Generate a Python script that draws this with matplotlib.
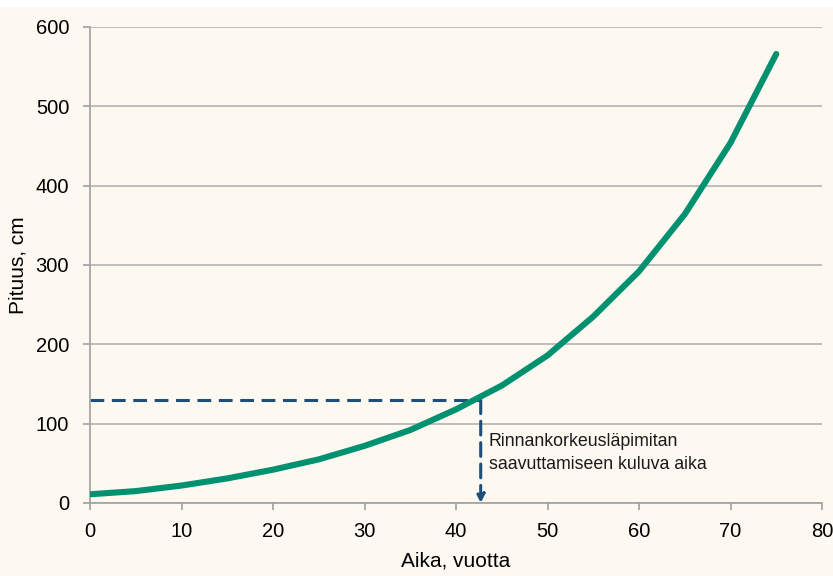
import matplotlib

matplotlib.use("Agg")
import matplotlib.pyplot as plt
from matplotlib.patches import Rectangle

# growth curve
years = [0, 5, 10, 15, 20, 25, 30, 35, 40, 45, 50, 55, 60, 65, 70, 75]
height_cm = [11, 15, 22, 31, 42, 55, 72, 92, 118, 148, 186, 235, 292, 364, 454, 566]

# breast height marker
bh_year = 42.7
bh_height = 130

x_ticks = list(range(0, 81, 10))
y_ticks = list(range(0, 601, 100))

plt.rcParams["font.family"] = ["Liberation Sans", "DejaVu Sans"]

fig = plt.figure(figsize=(8.33, 5.76), dpi=100, facecolor="white")
bg = "#fdf8f0"
fig.patches.append(Rectangle((0, 0), 1, 1 - 7 / 576, transform=fig.transFigure,
                             facecolor=bg, edgecolor="none", zorder=-10))
ax = fig.add_axes([90 / 833, 1 - 503 / 576, 732 / 833, 476 / 576])
ax.set_facecolor(bg)

ax.plot(years, height_cm, color="#009170", lw=4.4, solid_capstyle="round", zorder=3)

dash = "#1f4e79"
ax.plot([0, bh_year], [bh_height, bh_height], color=dash, lw=2.2, ls=(0, (4.5, 2.5)), zorder=2)
ax.annotate("", xy=(bh_year, 0), xytext=(bh_year, bh_height),
            arrowprops=dict(arrowstyle="-|>", color=dash, lw=2.2, ls=(0, (4.5, 2.5)),
                            shrinkA=0, shrinkB=0, mutation_scale=12), zorder=2)
ax.text(bh_year + 0.9, 63, "Rinnankorkeusläpimitan\nsaavuttamiseen kuluva aika",
        fontsize=12.8, va="center", ha="left", linespacing=1.5, color="#1a1a1a")

ax.set_xlim(0, 80)
ax.set_ylim(0, 600)
ax.set_xticks(x_ticks)
ax.set_yticks(y_ticks)
ax.grid(axis="y", color="#b3b3b3", lw=1.2)
ax.set_axisbelow(True)
for s in ("top", "right"):
    ax.spines[s].set_visible(False)
for s in ("left", "bottom"):
    ax.spines[s].set_color("#a0a0a0")
    ax.spines[s].set_linewidth(1.2)
ax.tick_params(axis="both", colors="#a0a0a0", labelcolor="black", labelsize=14.5, length=5, width=1.2)
ax.tick_params(axis="x", pad=9)
ax.tick_params(axis="y", pad=10)
ax.set_xlabel("Aika, vuotta", fontsize=15, labelpad=7)
ax.set_ylabel("Pituus, cm", fontsize=15, labelpad=6)

fig.savefig("out.png", dpi=100, facecolor=fig.get_facecolor())
